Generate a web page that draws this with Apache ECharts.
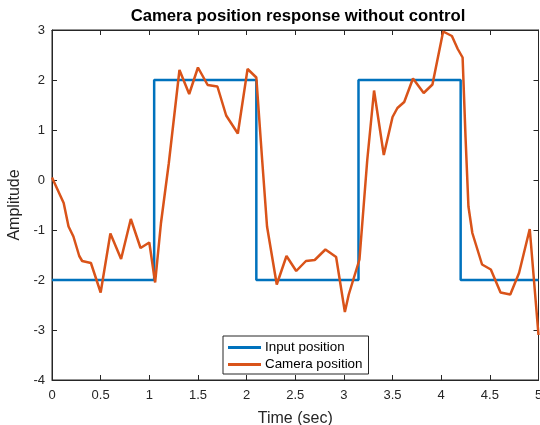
<!DOCTYPE html>
<html>
<head>
<meta charset="utf-8">
<script src="https://cdn.jsdelivr.net/npm/echarts@6/dist/echarts.min.js"></script>
<style>
  html, body { margin: 0; padding: 0; background: #fff; }
  #chart { width: 540px; height: 425px; }
</style>
</head>
<body>
<div id="chart"></div>
<script>
// Square-wave reference input (sec, amplitude)
const inputTimes  = [0, 1.05, 1.05, 2.1, 2.1, 3.15, 3.15, 4.2, 4.2, 5];
const inputValues = [-2, -2, 2, 2, -2, -2, 2, 2, -2, -2];

// Measured camera response (sec, amplitude)
const cameraTimes = [
  0, 0.12, 0.17, 0.22, 0.28, 0.31, 0.40, 0.50, 0.60, 0.71, 0.81, 0.91, 1.00, 1.06,
  1.12, 1.20, 1.31, 1.41, 1.50, 1.60, 1.70, 1.79, 1.91, 2.01, 2.10,
  2.16, 2.21, 2.31, 2.41, 2.51, 2.61, 2.70, 2.81, 2.92, 3.01, 3.05, 3.16,
  3.24, 3.31, 3.41, 3.50, 3.55, 3.62, 3.71, 3.82, 3.91, 4.02, 4.11, 4.17, 4.22,
  4.25, 4.28, 4.32, 4.42, 4.51, 4.61, 4.71, 4.80, 4.91, 5.00
];
const cameraValues = [
  0.05, -0.46, -0.93, -1.13, -1.52, -1.62, -1.66, -2.25, -1.07, -1.58, -0.78, -1.36, -1.25, -2.05,
  -0.86, 0.33, 2.20, 1.72, 2.25, 1.90, 1.87, 1.29, 0.93, 2.22, 2.05,
  0.40, -0.93, -2.09, -1.52, -1.82, -1.62, -1.60, -1.39, -1.54, -2.64, -2.29, -1.59,
  0.40, 1.79, 0.50, 1.26, 1.44, 1.56, 2.03, 1.74, 1.91, 2.97, 2.88, 2.62, 2.45,
  0.86, -0.53, -1.06, -1.69, -1.79, -2.25, -2.29, -1.86, -0.98, -3.10
];

const xTicks = { min: 0, max: 5, interval: 0.5 };
const yTicks = { min: -4, max: 3, interval: 1 };

const axisColor = '#262626';
const font = 'Arial, "Liberation Sans", Helvetica, sans-serif';

const zip = (xs, ys) => xs.map((x, i) => [x, ys[i]]);

const chart = echarts.init(document.getElementById('chart'), null, { renderer: 'canvas' });

const baseAxis = {
  type: 'value',
  axisLine: { show: true, onZero: false, lineStyle: { color: axisColor, width: 1 } },
  axisTick: { show: true, inside: true, length: 5, lineStyle: { color: axisColor } },
  splitLine: { show: false },
  axisLabel: { color: axisColor, fontSize: 13, fontFamily: font },
  nameTextStyle: { color: axisColor, fontSize: 16, fontFamily: font }
};

chart.setOption({
  animation: false,
  backgroundColor: '#fff',
  title: {
    text: 'Camera position response without control',
    left: 293,
    textAlign: 'center',
    top: 3,
    textStyle: { color: '#000', fontSize: 16.7, fontWeight: 'bold', fontFamily: font }
  },
  grid: {
    left: 52, right: 1.5, top: 30, bottom: 45,
    outerBoundsMode: 'none',
    containLabel: false,
    show: true, borderColor: axisColor, borderWidth: 1, backgroundColor: '#fff'
  },
  legend: {
    data: ['Input position', 'Camera position'],
    orient: 'vertical',
    left: 223, top: 336,
    padding: [5, 6, 3, 5],
    itemGap: 4,
    itemWidth: 33, itemHeight: 3,
    icon: 'rect',
    backgroundColor: '#fff',
    borderColor: axisColor, borderWidth: 1, borderRadius: 0,
    textStyle: { color: '#000', fontSize: 13.4, fontFamily: font, padding: [0, 0, 0, -1] }
  },
  xAxis: [
    Object.assign({}, baseAxis, {
      min: xTicks.min, max: xTicks.max, interval: xTicks.interval,
      position: 'bottom',
      name: 'Time (sec)', nameLocation: 'middle', nameGap: 31,
      axisLabel: Object.assign({}, baseAxis.axisLabel, { margin: 9, showMaxLabel: true })
    }),
    Object.assign({}, baseAxis, {
      min: xTicks.min, max: xTicks.max, interval: xTicks.interval,
      position: 'top', axisLabel: { show: false }
    })
  ],
  yAxis: [
    Object.assign({}, baseAxis, {
      min: yTicks.min, max: yTicks.max, interval: yTicks.interval,
      position: 'left',
      name: 'Amplitude', nameLocation: 'middle', nameGap: 24,
      axisLabel: Object.assign({}, baseAxis.axisLabel, { margin: 7 })
    }),
    Object.assign({}, baseAxis, {
      min: yTicks.min, max: yTicks.max, interval: yTicks.interval,
      position: 'right', axisLabel: { show: false }
    })
  ],
  series: [
    {
      name: 'Input position',
      type: 'line',
      data: zip(inputTimes, inputValues),
      showSymbol: false,
      symbol: 'none',
      lineStyle: { color: '#0072BD', width: 2.5 },
      itemStyle: { color: '#0072BD' },
      z: 2
    },
    {
      name: 'Camera position',
      type: 'line',
      data: zip(cameraTimes, cameraValues),
      showSymbol: false,
      symbol: 'none',
      lineStyle: { color: '#D95319', width: 2.5 },
      itemStyle: { color: '#D95319' },
      z: 3
    }
  ]
});
</script>
</body>
</html>
